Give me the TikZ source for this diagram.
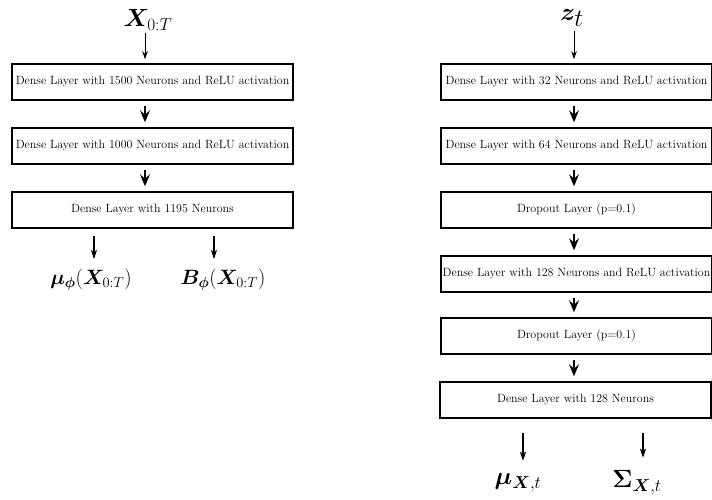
\documentclass[tikz,border=0pt]{standalone}
\usepackage{amsmath}
\usepackage{bm}
\usetikzlibrary{arrows.meta}
\begin{document}
\begin{tikzpicture}[x=1pt,y=-1pt,
  layerbox/.style={draw, line width=1.5pt, inner sep=0pt, minimum height=36pt,
    font=\fontsize{11.95}{14}\selectfont},
  leftbox/.style={layerbox, minimum width=281pt},
  rightbox/.style={layerbox, minimum width=271pt},
  mathlabel/.style={inner sep=0pt},
  inarrow/.style={line width=1pt, -{Stealth[length=8pt,width=5.5pt,inset=2.5pt]}},
  midarrow/.style={line width=2.4pt, -{Stealth[length=12pt,width=10pt,inset=4.5pt]},
    shorten <=5pt, shorten >=5pt},
  outarrow/.style={line width=1.2pt, -{Stealth[length=9pt,width=6pt,inset=2pt]}}
]
\useasboundingbox (0,0) rectangle (712,499);

% ---------- left network ----------
\node[mathlabel, font=\fontsize{25.5}{30}\selectfont] (xin) at (148,20) {$\bm{X}_{0:T}$};
\node[leftbox] (l1) at (152.5,82) {Dense Layer with 1500 Neurons and ReLU activation};
\node[leftbox] (l2) at (152.5,146) {Dense Layer with 1000 Neurons and ReLU activation};
\node[leftbox] (l3) at (152.5,210) {Dense Layer with 1195 Neurons};
\node[mathlabel, font=\fontsize{21.5}{25}\selectfont] (lmu) at (91,280) {$\bm{\mu}_{\bm{\phi}}(\bm{X}_{0:T})$};
\node[mathlabel, font=\fontsize{21.5}{25}\selectfont] (lb) at (223,280) {$\bm{B}_{\bm{\phi}}(\bm{X}_{0:T})$};

\coordinate (lax) at (145,0);
\coordinate (lo1) at (94,0);
\coordinate (lo2) at (214,0);

\draw[inarrow, shorten <=2pt, shorten >=4pt] (xin.south -| lax) -- (l1.north -| lax);
\draw[midarrow] (l1.south -| lax) -- (l2.north -| lax);
\draw[midarrow] (l2.south -| lax) -- (l3.north -| lax);
\draw[outarrow, shorten <=7pt, shorten >=10pt] (l3.south -| lo1) -- (lmu.north -| lo1);
\draw[outarrow, shorten <=7pt, shorten >=10pt] (l3.south -| lo2) -- (lb.north -| lo2);

% ---------- right network ----------
\node[mathlabel, font=\fontsize{34}{40}\selectfont] (zin) at (572,18) {$\bm{z}_t$};
\node[rightbox] (r1) at (576.5,82) {Dense Layer with 32 Neurons and ReLU activation};
\node[rightbox] (r2) at (576.5,146) {Dense Layer with 64 Neurons and ReLU activation};
\node[rightbox] (r3) at (576.5,210) {Dropout Layer (p=0.1)};
\node[rightbox] (r4) at (576.5,274) {Dense Layer with 128 Neurons and ReLU activation};
\node[rightbox] (r5) at (576.5,336) {Dropout Layer (p=0.1)};
\node[rightbox] (r6) at (575.5,400) {Dense Layer with 128 Neurons};
\node[mathlabel, font=\fontsize{27}{32}\selectfont] (rmu) at (518,483) {$\bm{\mu}_{\bm{X},t}$};
\node[mathlabel, font=\fontsize{26}{30}\selectfont] (rsig) at (637,483) {$\bm{\Sigma}_{\bm{X},t}$};

\coordinate (rax) at (574,0);
\coordinate (ro1) at (523,0);
\coordinate (ro2) at (643,0);

\draw[inarrow, shorten <=4pt, shorten >=4pt] (zin.south -| rax) -- (r1.north -| rax);
\draw[midarrow] (r1.south -| rax) -- (r2.north -| rax);
\draw[midarrow] (r2.south -| rax) -- (r3.north -| rax);
\draw[midarrow] (r3.south -| rax) -- (r4.north -| rax);
\draw[midarrow] (r4.south -| rax) -- (r5.north -| rax);
\draw[midarrow] (r5.south -| rax) -- (r6.north -| rax);
\draw[outarrow, shorten <=14pt, shorten >=13pt] (r6.south -| ro1) -- (rmu.north -| ro1);
\draw[outarrow, shorten <=14pt, shorten >=13pt] (r6.south -| ro2) -- (rsig.north -| ro2);
\end{tikzpicture}
\end{document}
